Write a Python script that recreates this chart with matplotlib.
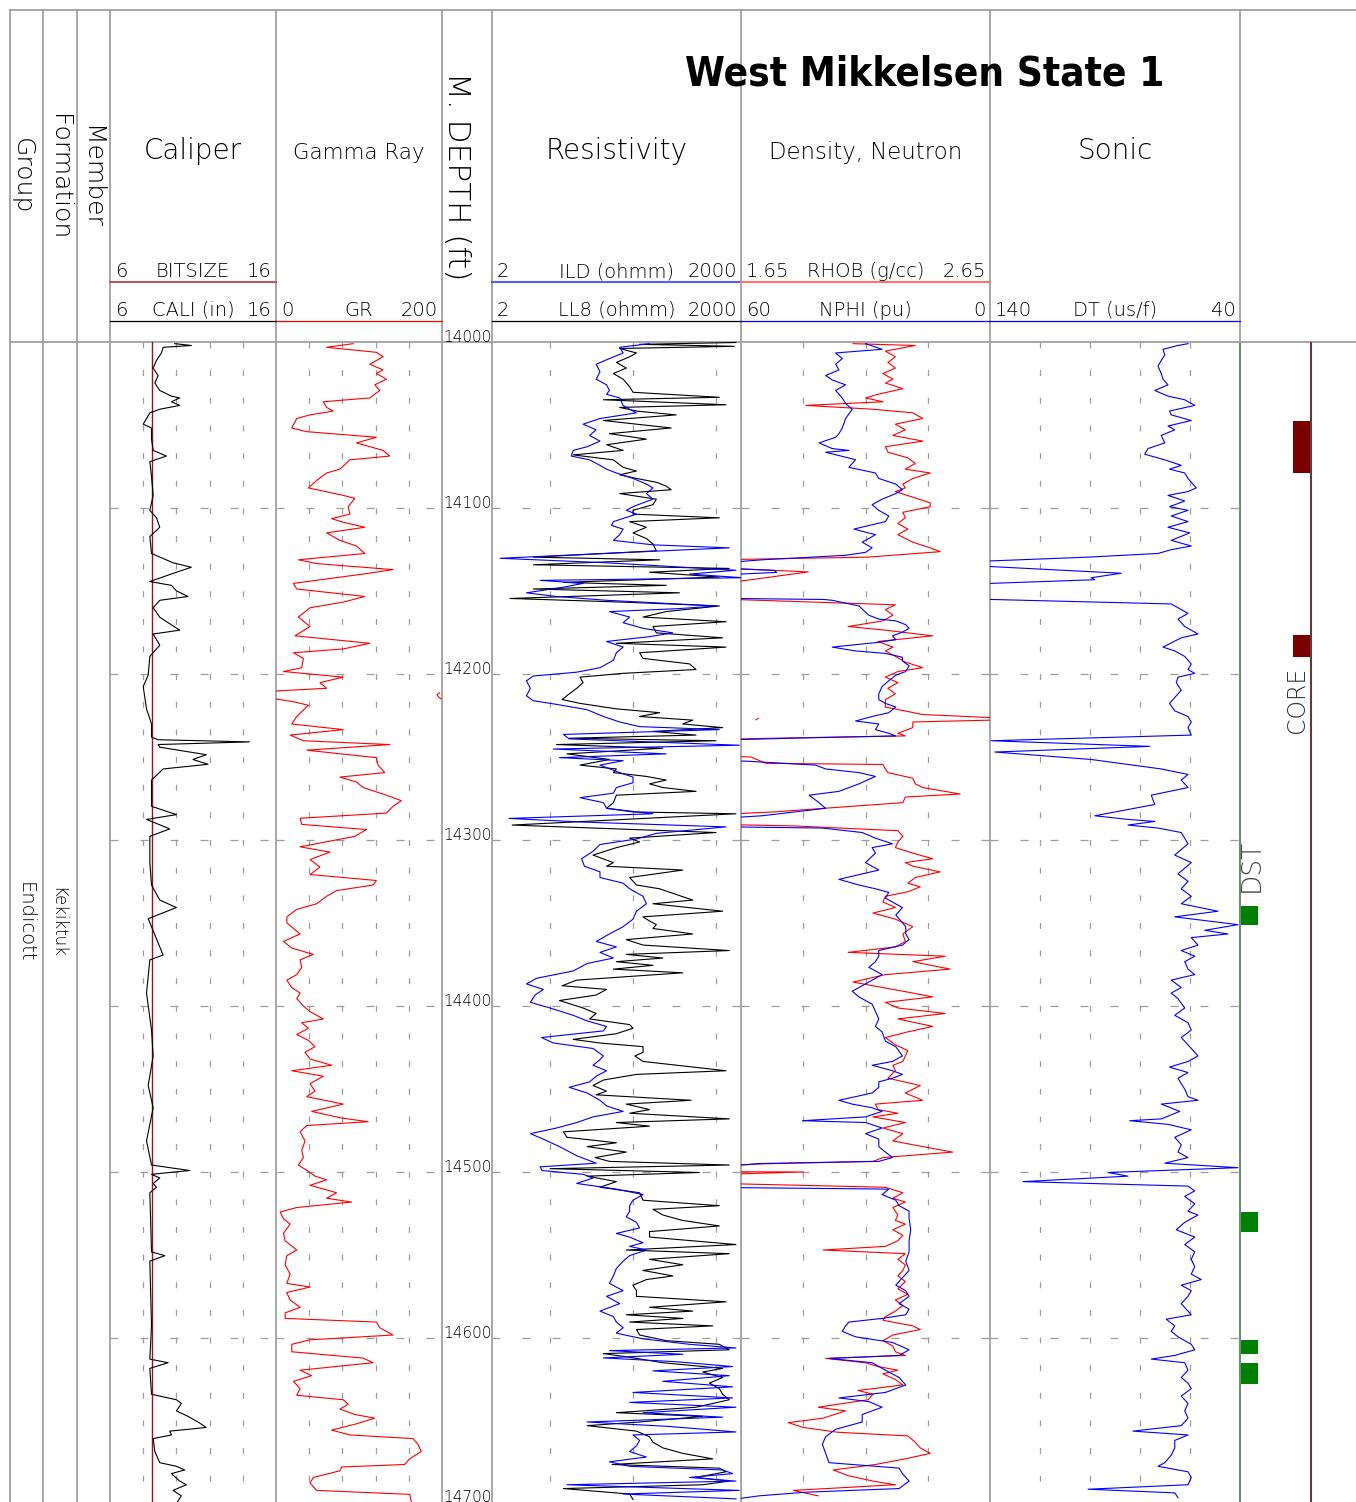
"""
Composite well log display, West Mikkelsen State 1, 14000-14700 ft.
"""

import numpy as np
import matplotlib.pyplot as plt

plt.rcParams['lines.scale_dashes'] = False
plt.rcParams['font.family'] = ['DejaVu Sans']

# ------------------------------------------------------------------ data
WELL_NAME = "West Mikkelsen State 1"
GROUP_NAME = "Endicott"
FORMATION_NAME = "Kekiktuk"
DEPTH_LABELS = [14000, 14100, 14200, 14300, 14400, 14500, 14600, 14700]
BIT_SIZE = 8.5

CALI_RANGE = (6, 16)
GR_RANGE = (0, 200)
RES_RANGE = (2, 2000)
RHOB_RANGE = (1.65, 2.65)
NPHI_RANGE = (60, 0)
DT_RANGE = (140, 40)

# (depth ft, value) pairs
CALI_LOG = [
    (14001.0, 9.9), (14002.1, 10.9), (14003.2, 9.2), (14006.6, 9.1), (14011.1, 8.8), (14015.7, 8.6),
    (14020.2, 8.9), (14024.7, 8.7), (14029.2, 9.0), (14032.6, 9.7), (14033.7, 10.2), (14036.0, 9.7),
    (14038.2, 10.2), (14040.5, 9.0), (14042.7, 8.4), (14049.5, 8.0), (14051.8, 8.5), (14058.5, 8.5),
    (14065.3, 8.6), (14068.7, 9.4), (14072.1, 8.4), (14081.1, 8.5), (14092.4, 8.6), (14101.4, 8.4),
    (14105.9, 8.8), (14111.6, 9.0), (14117.2, 8.4), (14127.4, 8.5), (14133.0, 9.8), (14135.7, 10.9),
    (14138.7, 10.0), (14144.3, 8.4), (14146.6, 9.7), (14149.9, 10.0), (14153.3, 10.7), (14155.6, 9.0),
    (14160.1, 8.6), (14165.8, 9.0), (14169.1, 9.5), (14173.6, 10.2), (14175.9, 8.6), (14182.7, 9.0),
    (14189.4, 8.4), (14200.7, 8.3), (14207.5, 8.0), (14214.3, 8.1), (14221.0, 8.2), (14230.1, 8.5),
    (14238.0, 8.5), (14239.6, 8.9), (14240.9, 14.4), (14242.5, 8.9), (14244.1, 9.0), (14247.0, 10.8),
    (14248.6, 11.8), (14251.5, 11.0), (14254.4, 11.9), (14257.2, 9.2), (14263.9, 8.5), (14279.7, 8.5),
    (14284.7, 10.0), (14287.6, 8.2), (14293.3, 9.6), (14297.8, 8.4), (14313.6, 8.4), (14327.1, 8.5),
    (14336.2, 9.0), (14340.7, 10.0), (14347.4, 8.3), (14369.3, 9.2), (14372.2, 8.4), (14392.2, 8.2),
    (14414.5, 8.5), (14430.1, 8.6), (14447.9, 8.3), (14461.3, 8.6), (14481.3, 8.2), (14495.8, 8.5),
    (14499.1, 10.8), (14501.4, 8.5), (14503.6, 9.0), (14506.9, 8.6), (14509.2, 8.8), (14512.5, 8.4),
    (14548.1, 8.5), (14550.4, 9.3), (14553.7, 8.4), (14592.7, 8.5), (14612.7, 8.4), (14614.9, 9.5),
    (14618.3, 8.4), (14633.9, 8.5), (14637.2, 10.0), (14639.4, 10.3), (14643.9, 10.0), (14647.2, 10.7),
    (14650.6, 11.3), (14653.9, 11.8), (14656.1, 9.6), (14658.4, 9.7), (14660.6, 8.6), (14668.4, 8.7),
    (14675.1, 9.0), (14677.3, 10.0), (14679.5, 10.5), (14681.7, 9.7), (14686.2, 10.2), (14688.4, 10.6),
    (14691.8, 9.8), (14695.1, 10.3), (14699.6, 10.0),
]

GR_LOG = [
    (14001.0, 93), (14003.2, 61), (14006.2, 121), (14008.9, 129), (14013.4, 113), (14016.8, 129),
    (14019.0, 121), (14022.4, 133), (14025.8, 119), (14029.2, 125), (14033.7, 113), (14036.0, 57),
    (14039.4, 61), (14041.6, 69), (14043.9, 41), (14046.1, 25), (14051.8, 19), (14054.0, 37),
    (14057.4, 121), (14060.8, 97), (14065.3, 129), (14068.7, 137), (14071.0, 89), (14076.6, 77),
    (14078.9, 61), (14083.4, 49), (14087.9, 39), (14092.4, 81), (14094.2, 95), (14099.2, 87),
    (14103.7, 89), (14106.4, 67), (14108.6, 81), (14111.6, 107), (14115.0, 61), (14119.5, 77),
    (14122.9, 97), (14127.4, 107), (14131.2, 27), (14133.5, 49), (14137.1, 141), (14139.8, 105),
    (14145.4, 21), (14148.8, 25), (14153.3, 107), (14156.7, 81), (14160.1, 41), (14165.7, 27),
    (14171.4, 41), (14177.0, 23), (14181.5, 113), (14184.9, 81), (14187.2, 21), (14190.6, 33),
    (14196.2, 31), (14198.5, 9), (14201.9, 81), (14205.2, 53), (14208.6, 61), (14210.2, 1),
    (14211.3, -3), (14212.5, -6), (14213.8, -4), (14215.0, -1), (14216.5, 19), (14218.8, 39),
    (14225.6, 25), (14230.1, 19), (14233.5, 81), (14236.8, 17), (14240.2, 33), (14242.5, 137),
    (14245.9, 37), (14250.4, 121), (14254.9, 123), (14259.4, 131), (14262.1, 77), (14265.1, 97),
    (14268.4, 105), (14273.0, 133), (14276.3, 151), (14279.7, 141), (14283.8, 133), (14286.9, 29),
    (14290.6, 31), (14293.7, 109), (14297.8, 95), (14304.1, 29), (14307.3, 65), (14311.8, 41),
    (14316.3, 53), (14320.8, 41), (14324.4, 121), (14327.1, 117), (14330.5, 73), (14333.9, 61),
    (14338.4, 49), (14341.8, 25), (14346.3, 13), (14349.9, 13), (14356.6, 29), (14361.1, 9),
    (14365.1, 19), (14368.9, 45), (14372.2, 29), (14376.7, 31), (14381.1, 25), (14384.4, 13),
    (14388.9, 19), (14392.2, 29), (14395.6, 25), (14400.0, 33), (14403.4, 41), (14407.8, 57),
    (14410.1, 31), (14413.4, 39), (14417.2, 25), (14420.7, 39), (14424.5, 47), (14427.9, 35),
    (14431.9, 41), (14435.7, 67), (14439.0, 19), (14442.3, 57), (14446.8, 41), (14451.3, 47),
    (14454.6, 37), (14459.1, 81), (14463.5, 43), (14467.5, 79), (14469.7, 111), (14472.0, 37),
    (14475.8, 29), (14481.3, 35), (14486.9, 31), (14491.3, 33), (14495.8, 27), (14500.3, 41),
    (14502.5, 47), (14504.7, 61), (14508.0, 41), (14512.5, 73), (14515.8, 61), (14518.1, 91),
    (14521.4, 25), (14524.1, 5), (14528.1, 9), (14531.4, 17), (14537.0, 9), (14541.4, 11),
    (14547.0, 25), (14550.4, 13), (14555.9, 11), (14561.5, 17), (14567.1, 13), (14569.3, 41),
    (14572.6, 13), (14577.1, 17), (14581.5, 29), (14584.9, 11), (14588.2, 11), (14590.4, 121),
    (14593.8, 125), (14598.2, 141), (14601.1, 41), (14603.8, 19), (14608.3, 19), (14612.1, 105),
    (14614.9, 117), (14619.4, 29), (14622.7, 43), (14626.1, 21), (14630.5, 29), (14634.5, 25),
    (14637.2, 81), (14639.9, 87), (14642.8, 77), (14646.1, 95), (14648.3, 119), (14651.7, 97),
    (14655.5, 67), (14658.4, 89), (14660.6, 165), (14663.9, 171), (14668.4, 175), (14672.8, 161),
    (14676.2, 155), (14677.7, 79), (14680.0, 77), (14684.0, 45), (14687.3, 41), (14691.8, 49),
    (14694.2, 161), (14698.4, 163),
]

ILD_LOG = [
    (14001.0, 158), (14003.2, 69), (14006.6, 76), (14010.0, 52), (14013.4, 36), (14017.9, 40),
    (14022.4, 36), (14025.8, 48), (14029.2, 52), (14031.5, 48), (14033.7, 69), (14038.2, 76),
    (14040.5, 91), (14042.7, 110), (14046.1, 40), (14049.5, 25), (14052.9, 36), (14056.3, 30),
    (14059.7, 40), (14063.1, 28), (14065.3, 19), (14068.7, 18), (14071.0, 30), (14074.3, 40),
    (14076.6, 48), (14078.9, 63), (14082.2, 100), (14085.6, 145), (14087.9, 174), (14091.3, 145),
    (14094.7, 174), (14096.9, 132), (14099.2, 100), (14101.4, 83), (14103.7, 110), (14108.2, 58),
    (14110.5, 55), (14112.7, 76), (14116.1, 69), (14119.5, 58), (14122.2, 174), (14124.0, 1445),
    (14126.7, 91), (14130.3, 2.5), (14133.0, 48), (14137.5, 1738), (14139.8, 479), (14142.0, 2089),
    (14143.6, 7.6), (14145.4, 25), (14147.7, 14.5), (14151.1, 5.2), (14153.3, 12), (14155.6, 48),
    (14159.0, 1000), (14160.6, 363), (14162.4, 52), (14165.7, 91), (14169.1, 76), (14172.5, 132),
    (14175.2, 302), (14177.5, 158), (14180.4, 48), (14183.8, 76), (14187.2, 63), (14191.7, 58),
    (14196.2, 40), (14198.9, 21), (14201.2, 6.3), (14204.1, 5.2), (14208.6, 5.8), (14213.1, 5.2),
    (14216.1, 6.3), (14218.3, 12), (14221.5, 28), (14225.6, 44), (14228.9, 69), (14231.7, 120),
    (14233.5, 1096), (14236.4, 14.5), (14239.1, 17), (14242.9, 1905), (14245.2, 11), (14248.1, 251),
    (14250.4, 13), (14252.2, 76), (14254.9, 40), (14259.4, 69), (14262.1, 100), (14265.5, 100),
    (14268.4, 63), (14271.8, 58), (14274.5, 23), (14277.5, 44), (14280.9, 48), (14284.2, 174),
    (14287.0, 3.2), (14289.2, 25), (14292.1, 1318), (14296.0, 191), (14299.4, 110), (14302.7, 40),
    (14306.8, 33), (14311.3, 24), (14315.8, 26), (14319.2, 40), (14322.6, 40), (14326.0, 76),
    (14329.4, 91), (14333.9, 132), (14338.4, 145), (14342.9, 110), (14347.7, 100), (14352.2, 76),
    (14356.6, 52), (14361.1, 36), (14364.4, 63), (14367.7, 40), (14371.1, 58), (14374.4, 28),
    (14378.9, 19), (14383.3, 6.9), (14386.7, 5.2), (14390.0, 8.3), (14393.4, 6.6), (14397.8, 5.8),
    (14401.2, 10), (14405.6, 19), (14409.0, 28), (14412.3, 48), (14415.0, 44), (14419.0, 7.9),
    (14422.3, 11), (14425.6, 33), (14430.1, 44), (14432.3, 40), (14435.7, 33), (14439.0, 48),
    (14442.3, 36), (14445.7, 30), (14449.0, 17), (14452.4, 28), (14456.8, 40), (14460.2, 48),
    (14463.5, 76), (14466.8, 33), (14470.2, 21), (14473.5, 12), (14476.9, 5.8), (14480.2, 8.3),
    (14484.7, 13), (14490.2, 21), (14494.7, 36), (14496.9, 7.6), (14499.1, 8.0), (14501.4, 25),
    (14503.6, 33), (14506.9, 21), (14510.3, 63), (14513.6, 132), (14517.0, 100), (14520.3, 91),
    (14523.6, 91), (14527.0, 83), (14530.3, 110), (14533.7, 120), (14537.0, 63), (14539.2, 91),
    (14542.6, 132), (14544.8, 91), (14547.0, 145), (14550.4, 91), (14553.7, 76), (14558.1, 63),
    (14562.6, 58), (14567.1, 52), (14571.5, 76), (14574.9, 48), (14579.3, 69), (14583.8, 40),
    (14587.1, 58), (14590.4, 63), (14593.8, 76), (14597.1, 63), (14600.5, 132), (14603.8, 479),
    (14606.0, 1738), (14607.6, 52), (14609.8, 398), (14612.0, 44), (14614.3, 331), (14617.2, 1585),
    (14619.8, 174), (14622.7, 1445), (14626.1, 229), (14629.4, 1585), (14632.8, 100), (14636.1, 1585),
    (14638.8, 91), (14641.7, 1738), (14645.0, 132), (14647.7, 1202), (14650.6, 28), (14653.3, 275),
    (14656.6, 1738), (14658.4, 100), (14661.7, 120), (14665.0, 110), (14668.4, 91), (14671.7, 145),
    (14674.6, 52), (14677.3, 91), (14679.5, 1202), (14681.7, 1585), (14684.0, 479), (14686.2, 1738),
    (14688.4, 16), (14691.8, 1905), (14694.0, 76), (14696.9, 1738),
]

LL8_LOG = [
    (14000.3, 1738), (14001.4, 120), (14002.6, 1660), (14003.9, 69), (14006.6, 110), (14008.9, 91),
    (14012.3, 63), (14015.7, 83), (14019.0, 58), (14022.4, 76), (14026.9, 91), (14030.3, 100),
    (14033.3, 1096), (14034.8, 44), (14037.8, 1318), (14039.4, 69), (14041.6, 110), (14043.9, 331),
    (14047.3, 44), (14051.8, 288), (14055.2, 52), (14058.5, 145), (14061.9, 48), (14065.3, 76),
    (14068.0, 19), (14071.0, 58), (14075.5, 76), (14077.7, 110), (14080.0, 69), (14082.2, 110),
    (14084.5, 191), (14086.8, 251), (14089.0, 288), (14091.3, 69), (14094.7, 191), (14098.0, 174),
    (14101.4, 100), (14103.7, 100), (14105.9, 1096), (14108.2, 91), (14111.6, 145), (14115.0, 100),
    (14118.4, 145), (14121.7, 174), (14125.8, 191), (14129.6, 6.3), (14131.2, 209), (14134.2, 6.3),
    (14136.4, 1445), (14138.7, 158), (14141.6, 1096), (14144.8, 14.5), (14146.6, 251), (14148.8, 6.3),
    (14151.1, 363), (14154.5, 3.3), (14156.7, 76), (14159.0, 1096), (14162.4, 251), (14165.7, 132),
    (14168.5, 1318), (14171.4, 174), (14175.2, 191), (14178.2, 1202), (14181.5, 63), (14183.8, 1318),
    (14187.2, 120), (14190.6, 132), (14193.9, 479), (14197.3, 575), (14199.6, 76), (14201.9, 23),
    (14205.2, 25), (14208.6, 21), (14212.0, 17), (14215.4, 14), (14217.7, 23), (14221.0, 63),
    (14223.3, 209), (14225.6, 120), (14227.8, 525), (14230.1, 398), (14232.3, 1202), (14234.6, 174),
    (14236.8, 575), (14238.7, 17), (14240.2, 1000), (14242.5, 12), (14244.7, 229), (14248.1, 16),
    (14251.5, 52), (14254.9, 23), (14257.2, 63), (14259.4, 58), (14261.7, 145), (14263.9, 251),
    (14266.2, 158), (14268.4, 229), (14270.7, 575), (14273.0, 63), (14277.5, 58), (14280.9, 48),
    (14283.1, 100), (14284.2, 1738), (14291.0, 3.5), (14295.5, 1000), (14298.9, 91), (14301.2, 120),
    (14304.6, 63), (14309.1, 33), (14313.6, 58), (14315.8, 48), (14318.1, 398), (14322.6, 91),
    (14327.1, 110), (14329.4, 209), (14332.8, 331), (14336.2, 525), (14338.4, 174), (14342.9, 1202),
    (14346.3, 132), (14347.7, 145), (14351.0, 191), (14353.3, 174), (14356.6, 525), (14360.0, 83),
    (14363.3, 132), (14366.6, 1445), (14368.9, 83), (14371.1, 229), (14373.3, 63), (14375.5, 174),
    (14377.8, 58), (14380.0, 398), (14384.4, 21), (14387.8, 14), (14390.0, 48), (14393.4, 36),
    (14396.7, 13), (14401.2, 25), (14404.5, 36), (14407.8, 30), (14411.2, 91), (14413.4, 100),
    (14416.7, 63), (14420.1, 19), (14422.3, 40), (14424.5, 132), (14427.9, 132), (14430.1, 105),
    (14433.4, 132), (14439.0, 1318), (14441.2, 110), (14444.6, 44), (14447.9, 33), (14451.3, 48),
    (14453.5, 36), (14456.8, 500), (14459.1, 83), (14462.4, 158), (14464.6, 91), (14468.0, 1445),
    (14470.2, 63), (14472.4, 158), (14475.8, 14.5), (14479.1, 16), (14482.4, 63), (14484.7, 28),
    (14488.0, 83), (14491.3, 35), (14493.6, 52), (14495.8, 1445), (14498.0, 10), (14500.3, 631),
    (14502.5, 28), (14505.8, 63), (14509.2, 40), (14512.5, 120), (14517.0, 132), (14520.3, 1096),
    (14522.5, 174), (14525.9, 229), (14529.2, 398), (14532.5, 1096), (14535.9, 158), (14539.2, 158),
    (14543.7, 1738), (14547.0, 83), (14549.2, 1445), (14552.6, 158), (14555.9, 398), (14559.3, 132),
    (14562.6, 302), (14564.8, 145), (14568.2, 100), (14571.5, 110), (14574.9, 110), (14578.2, 1318),
    (14581.5, 158), (14583.8, 525), (14586.0, 83), (14588.2, 398), (14590.4, 91), (14592.7, 912),
    (14594.9, 110), (14598.2, 120), (14601.6, 251), (14603.8, 1096), (14607.1, 1445), (14609.4, 44),
    (14611.6, 91), (14614.9, 229), (14618.3, 1202), (14620.5, 692), (14623.8, 1202), (14627.2, 832),
    (14630.5, 1096), (14633.9, 1202), (14637.2, 1445), (14641.7, 575), (14645.0, 63), (14647.2, 692),
    (14650.6, 120), (14652.8, 28), (14656.1, 110), (14659.5, 158), (14662.8, 174), (14666.2, 229),
    (14669.5, 398), (14672.8, 912), (14676.2, 56), (14678.4, 1096), (14680.6, 1318), (14684.0, 575),
    (14686.2, 1445), (14688.4, 692), (14690.7, 14.5), (14694.0, 91), (14697.3, 100),
]

RHOB_LOG = [
    (14001.0, 2.10), (14002.1, 2.35), (14005.5, 2.23), (14008.9, 2.27), (14012.3, 2.24), (14015.7, 2.27),
    (14019.0, 2.22), (14022.4, 2.26), (14024.7, 2.23), (14028.1, 2.30), (14031.5, 2.20), (14033.7, 2.15),
    (14036.0, 2.22), (14038.2, 1.91), (14040.5, 2.18), (14042.7, 2.34), (14046.1, 2.38), (14049.5, 2.27),
    (14052.9, 2.31), (14056.3, 2.26), (14059.7, 2.38), (14063.1, 2.23), (14066.4, 2.24), (14069.8, 2.32),
    (14073.2, 2.35), (14076.6, 2.31), (14078.9, 2.41), (14082.2, 2.34), (14085.6, 2.30), (14087.9, 2.31),
    (14090.1, 2.27), (14093.5, 2.34), (14096.9, 2.41), (14099.2, 2.41), (14102.6, 2.30), (14105.9, 2.31),
    (14109.3, 2.28), (14112.7, 2.32), (14116.1, 2.28), (14120.6, 2.34), (14124.0, 2.41), (14126.3, 2.45),
    (14129.6, 2.16), (14131.2, 1.55), (14136.0, 1.55), (14138.5, 1.92), (14143.0, 1.70), (14146.0, 1.55),
    (14155.0, 1.60), (14158.3, 2.27), (14161.2, 2.23), (14164.6, 2.26), (14168.0, 2.22), (14171.4, 2.08),
    (14173.6, 2.23), (14177.0, 2.42), (14180.4, 2.20), (14183.8, 2.26), (14186.1, 2.23), (14189.4, 2.27),
    (14192.8, 2.31), (14196.2, 2.38), (14198.5, 2.28), (14201.9, 2.23), (14205.2, 2.28), (14208.6, 2.24),
    (14212.0, 2.27), (14215.4, 2.23), (14219.9, 2.23), (14224.4, 2.38), (14226.7, 2.72), (14227.6, 2.71),
    (14228.9, 2.34), (14232.3, 2.34), (14235.7, 2.28), (14237.3, 2.31), (14238.4, 1.88), (14239.4, 1.55),
    (14249.5, 1.60), (14250.0, 1.69), (14253.8, 1.75), (14254.5, 2.22), (14257.2, 2.23), (14259.4, 2.24),
    (14262.8, 2.34), (14266.2, 2.35), (14268.4, 2.38), (14272.3, 2.53), (14274.1, 2.31), (14277.5, 2.30),
    (14283.1, 1.78), (14284.7, 1.55), (14290.6, 1.55), (14291.5, 1.86), (14294.4, 2.28), (14297.8, 2.30),
    (14301.2, 2.28), (14304.6, 2.27), (14307.9, 2.34), (14311.3, 2.42), (14313.6, 2.31), (14315.8, 2.34),
    (14319.2, 2.45), (14322.6, 2.35), (14326.0, 2.32), (14328.2, 2.37), (14331.2, 2.32), (14333.9, 2.23),
    (14337.3, 2.22), (14340.7, 2.27), (14344.0, 2.18), (14347.7, 2.27), (14352.2, 2.34), (14356.6, 2.30),
    (14361.1, 2.31), (14364.4, 2.27), (14367.7, 2.08), (14370.0, 2.47), (14373.3, 2.34), (14377.8, 2.49),
    (14381.1, 2.23), (14385.6, 2.10), (14388.9, 2.22), (14392.2, 2.34), (14394.5, 2.42), (14397.8, 2.23),
    (14401.2, 2.28), (14404.5, 2.47), (14407.8, 2.28), (14412.3, 2.42), (14415.6, 2.32), (14419.0, 2.23),
    (14423.4, 2.27), (14426.8, 2.32), (14430.1, 2.31), (14433.4, 2.30), (14435.7, 2.26), (14439.0, 2.27),
    (14443.5, 2.24), (14447.9, 2.37), (14452.4, 2.31), (14456.8, 2.38), (14459.1, 2.19), (14462.4, 2.20),
    (14464.6, 2.28), (14466.8, 2.18), (14470.2, 2.31), (14473.5, 2.22), (14476.9, 2.30), (14481.3, 2.26),
    (14484.7, 2.38), (14488.0, 2.50), (14491.3, 2.22), (14493.6, 2.18), (14495.1, 1.74), (14496.5, 1.55),
    (14499.8, 1.55), (14500.0, 1.90), (14500.8, 1.72), (14501.5, 1.55), (14507.0, 1.60), (14507.4, 1.71),
    (14509.2, 2.23), (14512.5, 2.30), (14515.8, 2.26), (14518.1, 2.31), (14521.4, 2.26), (14525.9, 2.28),
    (14529.2, 2.27), (14531.4, 2.31), (14534.8, 2.26), (14538.1, 2.30), (14541.4, 2.28), (14544.8, 2.23),
    (14547.0, 1.98), (14549.2, 2.31), (14552.6, 2.28), (14555.9, 2.31), (14559.3, 2.30), (14562.6, 2.28),
    (14566.0, 2.31), (14570.4, 2.28), (14573.7, 2.32), (14577.1, 2.27), (14580.4, 2.30), (14583.8, 2.27),
    (14587.1, 2.23), (14589.3, 2.22), (14592.7, 2.34), (14594.9, 2.37), (14598.2, 2.26), (14601.6, 2.22),
    (14604.9, 2.26), (14608.3, 2.27), (14610.5, 2.31), (14612.3, 1.99), (14614.9, 2.15), (14617.2, 2.20),
    (14619.4, 2.28), (14621.6, 2.22), (14625.0, 2.27), (14628.3, 2.30), (14631.6, 2.12), (14633.9, 2.18),
    (14637.2, 2.16), (14641.7, 1.96), (14643.9, 2.07), (14648.3, 1.98), (14651.0, 1.84), (14653.9, 1.90),
    (14656.8, 2.04), (14659.0, 2.32), (14662.8, 2.35), (14666.2, 2.37), (14669.5, 2.41), (14672.8, 2.31),
    (14676.2, 2.19), (14679.5, 2.02), (14682.9, 2.08), (14686.2, 2.18), (14688.4, 2.27), (14691.8, 1.86),
    (14695.1, 1.96),
]

NPHI_LOG = [
    (14001.0, 30.0), (14004.4, 26.0), (14006.6, 37.2), (14010.0, 35.6), (14013.4, 37.2), (14016.8, 36.4),
    (14020.2, 39.6), (14022.9, 38.0), (14025.8, 34.8), (14029.2, 37.2), (14033.7, 35.6), (14037.1, 34.8),
    (14040.5, 33.2), (14046.1, 34.8), (14051.8, 35.6), (14055.2, 36.4), (14057.4, 37.2), (14060.8, 41.2),
    (14064.2, 38.0), (14065.3, 34.0), (14066.4, 39.6), (14070.9, 32.4), (14075.5, 34.0), (14078.9, 27.6),
    (14082.2, 26.8), (14085.6, 22.7), (14089.0, 21.1), (14091.3, 22.7), (14094.7, 26.0), (14098.0, 28.4),
    (14101.4, 26.8), (14104.8, 24.4), (14108.2, 25.2), (14112.7, 32.8), (14116.1, 27.6), (14120.6, 30.8),
    (14124.0, 28.4), (14126.7, 30.0), (14128.5, 34.8), (14131.2, 54.9), (14132.6, 62.0), (14136.5, 62.0),
    (14137.6, 52.0), (14138.8, 51.4), (14140.0, 62.0), (14154.5, 62.0), (14155.1, 40.0), (14155.6, 38.0),
    (14159.0, 31.6), (14164.6, 29.2), (14166.9, 26.8), (14168.0, 22.7), (14170.3, 20.3), (14172.5, 19.5),
    (14174.8, 21.1), (14177.0, 23.5), (14179.3, 22.7), (14180.9, 26.8), (14183.8, 38.0), (14186.1, 32.4),
    (14187.6, 25.2), (14189.9, 21.1), (14192.2, 21.1), (14195.1, 19.5), (14198.5, 20.3), (14200.7, 22.7),
    (14204.1, 24.4), (14207.5, 26.0), (14212.0, 26.8), (14215.4, 26.8), (14217.7, 25.2), (14219.9, 22.7),
    (14223.3, 24.4), (14225.6, 28.4), (14228.3, 32.4), (14230.1, 26.8), (14233.5, 27.6), (14235.7, 24.4),
    (14237.3, 22.7), (14238.6, 46.4), (14239.6, 62.0), (14252.2, 62.0), (14252.6, 58.1), (14254.9, 42.0),
    (14257.2, 39.6), (14259.4, 31.6), (14261.7, 27.6), (14266.2, 31.6), (14270.7, 36.4), (14273.0, 43.6),
    (14277.5, 41.2), (14280.9, 39.6), (14285.4, 54.9), (14286.5, 62.0), (14292.1, 62.0), (14292.8, 40.4),
    (14295.5, 30.8), (14298.9, 27.6), (14302.3, 23.5), (14304.6, 28.4), (14307.9, 27.6), (14313.6, 30.0),
    (14318.1, 26.8), (14323.7, 36.4), (14327.1, 31.6), (14329.4, 27.6), (14331.6, 24.4), (14335.0, 25.2),
    (14340.7, 21.1), (14345.2, 22.7), (14352.2, 20.3), (14356.6, 20.3), (14360.0, 19.5), (14363.3, 21.1),
    (14366.6, 26.8), (14370.0, 26.8), (14373.3, 27.6), (14376.7, 29.2), (14381.1, 26.0), (14386.7, 30.0),
    (14391.1, 33.2), (14394.5, 31.6), (14398.9, 28.4), (14403.4, 27.6), (14407.8, 26.8), (14412.3, 27.6),
    (14415.6, 26.0), (14421.2, 25.2), (14424.5, 22.7), (14430.1, 21.1), (14433.4, 23.5), (14435.7, 28.4),
    (14439.0, 23.5), (14441.2, 21.1), (14443.5, 23.5), (14445.7, 26.8), (14449.0, 26.8), (14452.4, 28.4),
    (14456.8, 36.4), (14459.1, 33.2), (14461.3, 28.4), (14463.5, 26.0), (14466.8, 30.0), (14469.1, 45.2),
    (14470.2, 30.0), (14473.5, 26.0), (14476.9, 30.0), (14480.2, 26.8), (14484.7, 26.8), (14488.0, 25.2),
    (14491.3, 23.5), (14493.6, 26.8), (14494.9, 55.7), (14496.2, 62.0), (14509.4, 62.0), (14510.3, 24.4),
    (14513.6, 26.0), (14517.0, 22.7), (14520.3, 21.9), (14523.6, 19.5), (14528.1, 19.5), (14534.8, 19.1),
    (14541.4, 19.5), (14548.1, 19.5), (14553.7, 20.3), (14559.3, 19.5), (14563.7, 21.1), (14568.2, 22.7),
    (14571.5, 20.3), (14574.9, 19.5), (14579.3, 21.9), (14582.6, 19.5), (14586.0, 20.3), (14588.2, 26.0),
    (14590.4, 34.0), (14592.7, 34.8), (14596.0, 35.6), (14599.3, 32.4), (14602.7, 23.5), (14607.1, 19.5),
    (14610.5, 21.9), (14612.3, 38.8), (14614.9, 28.4), (14619.4, 25.2), (14623.8, 21.9), (14628.3, 20.3),
    (14632.8, 25.2), (14636.1, 36.4), (14638.3, 29.2), (14641.7, 26.0), (14646.1, 30.8), (14650.6, 30.8),
    (14655.0, 37.2), (14659.5, 39.6), (14664.0, 40.4), (14669.5, 39.6), (14675.1, 38.8), (14678.4, 21.9),
    (14681.7, 21.1), (14686.2, 19.5), (14690.7, 21.9), (14692.9, 44.4), (14695.1, 55.7), (14697.3, 62.0),
]

DT_LOG = [
    (14001.0, 60.8), (14002.1, 64.8), (14004.4, 70.8), (14007.8, 70.1), (14011.1, 71.5), (14014.5, 72.8),
    (14019.0, 71.5), (14022.4, 70.8), (14025.8, 68.8), (14029.2, 74.1), (14032.6, 68.8), (14034.8, 62.1),
    (14038.2, 58.1), (14041.6, 68.2), (14043.9, 67.5), (14047.3, 59.5), (14050.6, 68.8), (14052.9, 66.1),
    (14056.3, 71.5), (14060.8, 70.1), (14064.2, 76.8), (14067.6, 78.1), (14071.0, 70.1), (14074.3, 63.5),
    (14076.6, 68.2), (14078.9, 62.1), (14082.2, 60.8), (14084.5, 59.5), (14087.9, 57.5), (14090.1, 60.8),
    (14092.4, 68.8), (14095.8, 62.1), (14099.2, 68.2), (14101.4, 60.8), (14104.8, 67.5), (14108.2, 60.8),
    (14111.6, 68.8), (14115.0, 60.1), (14119.5, 67.5), (14122.9, 59.5), (14125.1, 67.5), (14127.4, 72.8),
    (14129.6, 100.8), (14131.9, 140.1), (14133.0, 145.0), (14134.8, 145.0), (14135.3, 139.5), (14139.3, 87.5),
    (14142.0, 99.5), (14143.2, 98.1), (14145.4, 139.5), (14146.6, 145.0), (14154.5, 145.0), (14155.1, 139.5),
    (14157.8, 67.5), (14160.1, 64.8), (14163.5, 60.8), (14166.9, 64.8), (14171.4, 62.1), (14175.9, 56.8),
    (14178.2, 63.5), (14183.8, 70.8), (14186.1, 66.1), (14189.4, 62.1), (14194.0, 59.5), (14197.3, 60.8),
    (14199.6, 58.1), (14201.9, 64.8), (14205.2, 65.5), (14209.8, 63.5), (14217.7, 68.2), (14222.2, 66.1),
    (14225.6, 60.8), (14228.9, 59.5), (14232.3, 60.8), (14236.8, 59.5), (14240.2, 139.5), (14243.6, 76.1),
    (14247.0, 138.1), (14251.5, 99.5), (14257.2, 71.5), (14260.5, 60.8), (14263.9, 63.5), (14268.4, 60.8),
    (14273.0, 75.5), (14278.6, 74.1), (14285.4, 98.1), (14287.6, 84.8), (14288.8, 74.1), (14291.0, 84.8),
    (14292.8, 72.8), (14295.5, 63.5), (14302.3, 60.8), (14309.1, 66.1), (14313.6, 59.5), (14320.4, 64.8),
    (14324.9, 60.8), (14329.4, 63.5), (14333.9, 59.5), (14338.4, 63.5), (14342.9, 48.8), (14346.3, 66.1),
    (14351.0, 40.8), (14354.4, 54.1), (14356.6, 44.8), (14358.8, 59.5), (14363.3, 56.8), (14366.6, 63.5),
    (14370.0, 58.1), (14373.3, 62.1), (14377.8, 60.8), (14381.1, 58.1), (14384.4, 67.5), (14388.9, 63.5),
    (14392.2, 67.5), (14395.6, 64.8), (14401.2, 62.1), (14405.6, 66.1), (14410.1, 60.8), (14414.5, 59.5),
    (14419.0, 63.5), (14423.4, 60.8), (14427.9, 58.1), (14430.1, 56.8), (14433.4, 60.8), (14436.8, 68.2),
    (14440.1, 60.8), (14443.5, 64.8), (14446.8, 63.5), (14450.1, 62.1), (14454.6, 60.8), (14456.8, 56.8),
    (14459.1, 71.5), (14463.5, 64.1), (14468.0, 71.5), (14469.1, 84.1), (14471.3, 68.8), (14474.6, 59.5),
    (14479.1, 66.1), (14483.6, 63.5), (14488.0, 64.8), (14491.3, 60.8), (14494.7, 70.1), (14497.4, 40.8),
    (14500.3, 92.8), (14502.5, 84.8), (14505.8, 126.8), (14508.5, 60.8), (14511.4, 58.1), (14514.7, 62.1),
    (14519.2, 58.1), (14523.6, 60.8), (14525.9, 56.8), (14530.3, 62.1), (14534.8, 65.5), (14539.2, 58.1),
    (14543.7, 62.1), (14548.1, 58.1), (14552.6, 59.5), (14557.0, 58.1), (14561.5, 59.5), (14564.8, 55.5),
    (14568.2, 63.5), (14571.5, 59.5), (14574.9, 60.8), (14579.3, 63.5), (14583.8, 60.8), (14586.0, 59.5),
    (14588.7, 69.5), (14592.7, 66.1), (14596.0, 67.5), (14599.3, 64.8), (14603.8, 59.5), (14607.1, 58.1),
    (14610.5, 66.1), (14612.7, 75.5), (14614.9, 62.1), (14619.4, 60.8), (14623.8, 63.5), (14627.2, 60.8),
    (14630.5, 59.5), (14635.0, 63.5), (14639.4, 60.8), (14643.9, 62.1), (14648.3, 60.8), (14652.8, 63.5),
    (14656.1, 82.8), (14658.4, 60.8), (14661.7, 66.1), (14666.2, 66.1), (14670.6, 67.5), (14675.1, 70.1),
    (14677.3, 72.8), (14680.6, 60.8), (14684.0, 59.5), (14688.4, 60.8), (14691.1, 100.8), (14693.3, 66.1),
    (14696.2, 64.8),
]

CORE_TOP = [14047.6, 14176.5]
CORE_BASE = [14078.9, 14189.8]
DST_TOP = [14339.8, 14524.1, 14601.2, 14615.0]
DST_BASE = [14351.2, 14536.1, 14609.6, 14627.7]

# ---------------------------------------------------------------- layout
W, H = 1356, 1502
BODY_TOP, BODY_BOTTOM = 342, 1502
PX_PER_FT = 1.66
DEPTH_TOP = 14000
DEPTH_BOTTOM = DEPTH_TOP + (BODY_BOTTOM - BODY_TOP) / PX_PER_FT

FRAME = '#a0a0a0'
GRID = '#9c9c9c'
LIGHT = 200  # thin strokes like the plotter font

fig = plt.figure(figsize=(W / 100, H / 100), dpi=100)
bg = fig.add_axes([0, 0, 1, 1])
bg.set_xlim(0, W)
bg.set_ylim(H, 0)
bg.axis('off')

# frame
for x in [10, 43, 77, 110, 276, 442, 492, 741, 990]:
    bg.plot([x, x], [10, BODY_BOTTOM], color=FRAME, lw=1.3)
bg.plot([1240, 1240], [10, BODY_TOP], color=FRAME, lw=1.3)
bg.plot([1240, 1240], [BODY_TOP, BODY_BOTTOM], color='#6e8e6e', lw=1.5)
bg.plot([10, W], [10, 10], color=FRAME, lw=1.3)
bg.plot([10, W], [BODY_TOP, BODY_TOP], color=FRAME, lw=1.3)

# header titles
bg.text(925, 75, WELL_NAME, fontsize=29, fontweight='bold', fontstretch='condensed',
        family=['DejaVu Sans Condensed', 'DejaVu Sans'], ha='center', va='center', zorder=5)
for label, x, y in [('Group', 22, 176), ('Formation', 59, 177), ('Member', 91, 177)]:
    bg.text(x, y, label, fontsize=18, rotation=270, ha='center', va='center', fontweight=LIGHT)
bg.text(457, 176, 'M. DEPTH (ft)', fontsize=22.5, rotation=270, ha='center', va='center',
        fontweight=LIGHT)
for label, x, y, size in [('Caliper', 193, 151, 20), ('Gamma Ray', 359, 153, 15.5),
                          ('Resistivity', 617, 151, 20), ('Density, Neutron', 866, 153, 16.5),
                          ('Sonic', 1115, 151, 20)]:
    bg.text(x, y, label, fontsize=size, ha='center', va='center', fontweight=LIGHT)

# curve scale rows: (x0, x1, row, left, name, right, colour, line width)
SCALE_ROWS = [
    (110, 276, 0, CALI_RANGE[0], 'BITSIZE', CALI_RANGE[1], '#b35c5c', 1.5),
    (110, 276, 1, CALI_RANGE[0], 'CALI (in)', CALI_RANGE[1], 'black', 0.9),
    (276, 442, 1, GR_RANGE[0], 'GR', GR_RANGE[1], 'red', 0.9),
    (492, 741, 0, RES_RANGE[0], 'ILD (ohmm)', RES_RANGE[1], '#5b5bff', 1.5),
    (492, 741, 1, RES_RANGE[0], 'LL8 (ohmm)', RES_RANGE[1], 'black', 0.9),
    (741, 990, 0, RHOB_RANGE[0], 'RHOB (g/cc)', RHOB_RANGE[1], '#ff7070', 1.5),
    (741, 990, 1, NPHI_RANGE[0], 'NPHI (pu)', NPHI_RANGE[1], 'blue', 0.9),
    (990, 1240, 1, DT_RANGE[0], 'DT (us/f)', DT_RANGE[1], 'blue', 0.9),
]
for x0, x1, row, lo, name, hi, color, lw in SCALE_ROWS:
    y_text = 277 + 39 * row
    y_line = 282 + 39 * row
    kw = dict(fontsize=14, va='baseline', fontweight=LIGHT)
    bg.text(x0 + 5, y_text, f'{lo:g}', ha='left', **kw)
    bg.text((x0 + x1) / 2, y_text, name, ha='center', **kw)
    bg.text(x1 - 4, y_text, f'{hi:g}', ha='right', **kw)
    bg.plot([x0, x1], [y_line, y_line], color=color, lw=lw)


# ---------------------------------------------------------------- tracks
def track(x0, x1):
    ax = fig.add_axes([x0 / W, 1 - BODY_BOTTOM / H, (x1 - x0) / W, (BODY_BOTTOM - BODY_TOP) / H])
    ax.set_ylim(DEPTH_BOTTOM, DEPTH_TOP)
    ax.axis('off')
    return ax


def grid(ax, xs):
    for d in DEPTH_LABELS[1:-1]:
        ax.axhline(d, color=GRID, lw=0.9, dashes=(5.8, 15.8), zorder=1)
    for x in xs:
        ax.plot([x, x], [DEPTH_TOP, DEPTH_BOTTOM], color=GRID, lw=0.9, dashes=(4.3, 15.6), zorder=1)


def curve(ax, log, color, wrap=None):
    depth, value = np.array(log).T
    ax.plot(value, depth, color=color, lw=0.8, zorder=3)
    if wrap is not None:
        ax.plot(wrap(value), depth, color=color, lw=0.8, zorder=3)


# caliper
ax_cal = track(110, 276)
ax_cal.set_xlim(*CALI_RANGE)
grid(ax_cal, np.linspace(*CALI_RANGE, 6)[1:-1])
ax_cal.axvline(BIT_SIZE, color='#8b1a1a', lw=1.0, zorder=2)
curve(ax_cal, CALI_LOG, 'black')

# gamma ray (values below 0 wrap onto the backup scale)
ax_gr = track(276, 442)
ax_gr.set_xlim(*GR_RANGE)
grid(ax_gr, np.linspace(*GR_RANGE, 6)[1:-1])
curve(ax_gr, GR_LOG, 'red', wrap=lambda v: np.where(v < GR_RANGE[0], v + GR_RANGE[1], np.nan))

# depth column
ax_dep = track(442, 492)
ax_dep.set_xlim(0, 50)
for d in DEPTH_LABELS:
    ax_dep.text(1, min(d, DEPTH_BOTTOM - 0.3), str(d), fontsize=11, ha='left', va='baseline',
                clip_on=False, fontweight=LIGHT)

# resistivity
ax_res = track(492, 741)
ax_res.set_xscale('log')
ax_res.set_xlim(*RES_RANGE)
grid(ax_res, [10, 100, 1000])
curve(ax_res, LL8_LOG, 'black')
curve(ax_res, ILD_LOG, 'blue')

# density / neutron
ax_rho = track(741, 990)
ax_rho.set_xlim(*RHOB_RANGE)
grid(ax_rho, np.linspace(*RHOB_RANGE, 5)[1:-1])
curve(ax_rho, RHOB_LOG, 'red', wrap=lambda v: np.where(v > RHOB_RANGE[1], v - 1.0, np.nan))
ax_nph = ax_rho.twiny()
ax_nph.set_xlim(*NPHI_RANGE)
ax_nph.set_ylim(DEPTH_BOTTOM, DEPTH_TOP)
ax_nph.axis('off')
curve(ax_nph, NPHI_LOG, 'blue')

# sonic
ax_dt = track(990, 1240)
ax_dt.set_xlim(*DT_RANGE)
grid(ax_dt, np.linspace(*DT_RANGE, 6)[1:-1])
curve(ax_dt, DT_LOG, 'blue')

# core / DST column
ax_core = track(1240, W)
ax_core.set_xlim(0, W - 1240)
ax_core.plot([71, 71], [DEPTH_TOP, DEPTH_BOTTOM], color='#5c3c3c', lw=1.5)
for top, base in zip(CORE_TOP, CORE_BASE):
    ax_core.fill_betweenx([top, base], 53, 70.5, color='#7a0000', lw=0)
for top, base in zip(DST_TOP, DST_BASE):
    ax_core.fill_betweenx([top, base], 0.5, 18, color='#008000', lw=0)
ax_core.text(57, 14215.7, 'CORE', fontsize=17, rotation=90, ha='center', va='center',
             color='#333333', fontweight=LIGHT)
ax_core.text(11, 14315.0, 'DST', fontsize=19, rotation=90, ha='center', va='center',
             color='#444444', fontweight=LIGHT, clip_on=False)

# group / formation names
mid_depth = (DEPTH_TOP + DEPTH_BOTTOM) / 2
ax_grp = track(10, 43)
ax_grp.set_xlim(10, 43)
ax_grp.text(25, mid_depth, GROUP_NAME, fontsize=14, rotation=270, ha='center', va='center',
            fontweight=LIGHT)
ax_fm = track(43, 77)
ax_fm.set_xlim(43, 77)
ax_fm.text(57, mid_depth, FORMATION_NAME, fontsize=12, rotation=270, ha='center', va='center',
           fontweight=LIGHT)

fig.savefig('out.png', dpi=100)
